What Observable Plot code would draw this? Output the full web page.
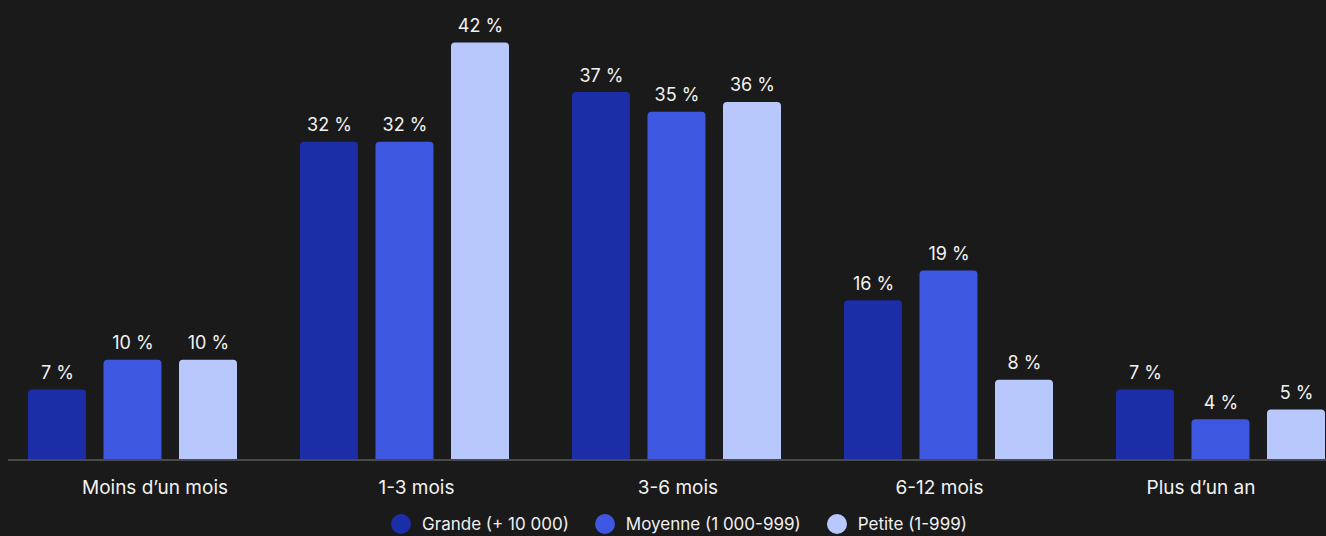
<!DOCTYPE html>
<html>
<head>
<meta charset="utf-8">
<script src="https://cdn.jsdelivr.net/npm/d3@7"></script>
<script src="https://cdn.jsdelivr.net/npm/@observablehq/plot@0.6"></script>
<style>
  html, body { margin: 0; padding: 0; background: #1a1a1a; }
  body { width: 1326px; height: 536px; overflow: hidden; font-family: Inter, "Noto Sans", sans-serif; }
  #wrap { position: relative; width: 1326px; height: 536px; }
  #bars { position: absolute; left: 0; top: 0; }
  #axis { position: absolute; left: 0; top: 459px; }
  #legend { position: absolute; left: 16px; top: 514px; width: 1326px; display: flex; justify-content: center; align-items: center; color: #f0f0f0; font-size: 17px; line-height: 20px; }
  .item { display: flex; align-items: center; margin: 0 13px; }
  .dot { width: 20px; height: 20px; border-radius: 50%; margin-right: 11px; }
</style>
</head>
<body>
<div id="wrap">
  <div id="bars"></div>
  <div id="axis"></div>
  <div id="legend"></div>
</div>
<script>
const categories = ["Moins d’un mois", "1-3 mois", "3-6 mois", "6-12 mois", "Plus d’un an"];
const series = ["Grande (+ 10 000)", "Moyenne (1 000-999)", "Petite (1-999)"];
const grande = [7, 32, 37, 16, 7];
const moyenne = [10, 32, 35, 19, 4];
const petite = [10, 42, 36, 8, 5];
const colors = ["#1b2da7", "#3d57e1", "#b8c8fd"];

const seriesValues = [grande, moyenne, petite];
const data = [];
categories.forEach((c, i) => {
  series.forEach((s, j) => {
    data.push({category: c, series: s, value: seriesValues[j][i]});
  });
});

const font = "Inter, 'Noto Sans', sans-serif";

const bars = Plot.plot({
  width: 1326,
  height: 459,
  marginTop: 0,
  marginBottom: 0,
  marginLeft: 28,
  marginRight: 1,
  style: {background: "transparent", color: "#f2f2f2", fontFamily: font, overflow: "hidden"},
  fx: {domain: categories, range: [28, 1325], round: false, paddingInner: 0.2316, paddingOuter: 0, axis: null, label: null},
  x: {domain: series, round: false, paddingInner: 0.2318, paddingOuter: 0, axis: null, label: null},
  y: {domain: [0, 46.28], axis: null, label: null},
  color: {domain: series, range: colors},
  marks: [
    Plot.barY(data, {fx: "category", x: "series", y: "value", fill: "series", rx: 4, insetBottom: -8}),
    Plot.text(data, {fx: "category", x: "series", y: "value", text: d => `${d.value} %`, fill: "#f2f2f2", fontSize: 18, lineAnchor: "bottom", dy: -11})
  ]
});
document.getElementById("bars").appendChild(bars);

const axis = Plot.plot({
  width: 1326,
  height: 50,
  marginTop: 0,
  marginBottom: 0,
  marginLeft: 8,
  marginRight: 0,
  style: {background: "transparent", color: "#f2f2f2", fontFamily: font},
  x: {type: "point", domain: categories, range: [154.5, 1200.5], padding: 0, round: false, axis: null},
  y: {domain: [0, 1], range: [0.5, 50], axis: null},
  marks: [
    Plot.ruleY([0], {stroke: "#7a7a7a", strokeWidth: 1}),
    Plot.text(categories, {x: d => d, frameAnchor: "top", dy: 28, fontSize: 19, fill: "#f2f2f2", lineAnchor: "middle"})
  ]
});
document.getElementById("axis").appendChild(axis);

const legend = document.getElementById("legend");
series.forEach((s, j) => {
  const item = document.createElement("div");
  item.className = "item";
  const dot = document.createElement("span");
  dot.className = "dot";
  dot.style.background = colors[j];
  const label = document.createElement("span");
  label.textContent = s;
  item.appendChild(dot);
  item.appendChild(label);
  legend.appendChild(item);
});
</script>
</body>
</html>
